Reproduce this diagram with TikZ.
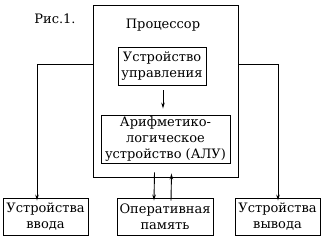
\documentclass[tikz,border=0pt]{standalone}
\usepackage{fontspec}
\setmainfont{DejaVu Serif}
\usetikzlibrary{arrows.meta,calc}

\begin{document}
\begin{tikzpicture}[
    x=1pt, y=-1pt,
    >={Stealth[length=6pt,width=3.5pt]},
    blk/.style={rectangle, draw, line width=0.9pt, inner sep=1pt, align=center,
                font=\fontsize{13}{16}\selectfont},
    arr/.style={->, line width=0.9pt},
    txt/.style={inner sep=0pt, font=\fontsize{13}{16}\selectfont}
  ]
    \useasboundingbox (0,0) rectangle (324,240);

    %--- processor with its units ---
    \node[blk, minimum width=145pt, minimum height=172pt] (proc) at (165.5,91) {};
    \node[txt] (proctxt) at (163,25) {Процессор};
    \node[txt] (fig) at (55,19) {Рис.1.};
    \node[blk, minimum width=88pt, minimum height=38pt] (cu) at (162,66)
      {Устройство\\управления};
    \node[blk, minimum width=129pt, minimum height=48pt] (alu) at (165.5,139)
      {Арифметико-\\логическое\\устройство (АЛУ)};

    \draw[arr] ($(cu.south)+(1,5)$) -- ($(alu.north)+(-2.5,-6)$);

    %--- outer devices ---
    \node[blk, minimum width=85pt, minimum height=37pt] (inp) at (45.5,216.5)
      {Устройства\\ввода};
    \node[blk, minimum width=96pt, minimum height=37pt] (mem) at (165,216.5)
      {Оперативная\\память};
    \node[blk, minimum width=85pt, minimum height=37pt] (out) at (277.5,216.5)
      {Устройства\\вывода};

    \draw[arr] (proc.west |- 0,64) -| ([xshift=-8.5pt,yshift=-3pt]inp.north);
    \draw[arr] (proc.east |- 0,64) -| ([xshift=0.5pt,yshift=-3pt]out.north);
    \draw[arr] ([xshift=-11pt,yshift=5pt]proc.south) -- ([xshift=-11pt,yshift=-3pt]mem.north);
    \draw[arr] ([xshift=6pt,yshift=-3pt]mem.north) -- ([xshift=6pt,yshift=4pt]proc.south);
\end{tikzpicture}
\end{document}
